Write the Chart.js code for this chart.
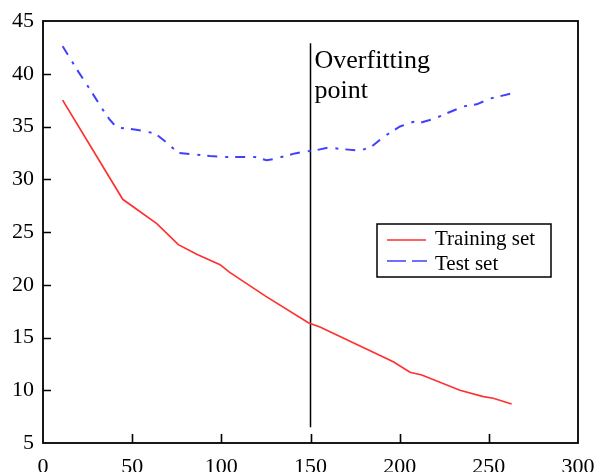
<!DOCTYPE html>
<html>
<head>
<meta charset="utf-8">
<script src="https://cdn.jsdelivr.net/npm/chart.js@4.4.0/dist/chart.umd.min.js"></script>
<style>
  html, body { margin: 0; padding: 0; background: #fff; overflow: hidden; }
  #errChart { display: block; }
</style>
</head>
<body>
<canvas id="errChart" width="595" height="472"></canvas>
<script>
// Training / test error curves
const trainX = [11, 44.7, 63.8, 75.9, 86.2, 99.3, 104.5, 125, 148.8, 155.3, 183.4, 196.4, 205.8, 212.4, 233.8, 246.9, 252.5, 262.8]
const trainY = [37.5, 28.1, 25.8, 23.8, 22.9, 21.9, 21.2, 18.9, 16.4, 16.0, 13.75, 12.7, 11.7, 11.45, 10.0, 9.4, 9.24, 8.7]

const testX = [11, 19.8, 26.4, 33.5, 37.2, 41.3, 52.2, 62.8, 68.4, 75.9, 85.2, 93.6, 102, 110.5, 118.9, 125.4, 129.1, 135.7, 141.3, 146, 151.6, 160, 168.4, 177.8, 184.3, 190.8, 200.2, 207.7, 211.4, 218.9, 226.4, 235.7, 243.2, 250.7, 262]
const testY = [42.6, 40.2, 38.5, 36.6, 35.7, 34.9, 34.7, 34.35, 33.6, 32.5, 32.35, 32.2, 32.1, 32.1, 32.1, 31.8, 31.9, 32.2, 32.45, 32.6, 32.7, 33.0, 32.85, 32.7, 33.1, 34.0, 35.0, 35.45, 35.35, 35.7, 36.25, 36.9, 37.1, 37.65, 38.1]

// vertical marker
const overX = [150, 150]
const overY = [42.9, 6.5]

const seriesNames = ['Training set', 'Test set']
const markerText = ['Overfitting', 'point']

const xTicks = [0, 50, 100, 150, 200, 250, 300]
const yTicks = [5, 10, 15, 20, 25, 30, 35, 40, 45]

const serif = "'Liberation Serif', 'Times New Roman', serif"
const redColor = '#ff3030'
const blueColor = '#4040ff'
const testDash = [10, 8, 3, 7]

const toPoints = (xs, ys) => xs.map((x, i) => ({ x: x, y: ys[i] }))

// box, inward ticks, text and legend
const framePlugin = {
    id: 'frame',
    afterDraw(chart) {
        const ctx = chart.ctx
        const area = chart.chartArea
        const xs = chart.scales.x
        const ys = chart.scales.y
        ctx.save()

        ctx.strokeStyle = '#000'
        ctx.lineWidth = 1.6
        ctx.beginPath()
        xTicks.slice(1, -1).forEach(v => {
            const px = Math.round(xs.getPixelForValue(v)) + 0.5
            ctx.moveTo(px, area.bottom)
            ctx.lineTo(px, area.bottom - 9)
        })
        yTicks.slice(1, -1).forEach(v => {
            const py = Math.round(ys.getPixelForValue(v)) + 0.5
            ctx.moveTo(area.left, py)
            ctx.lineTo(area.left + 8, py)
        })
        ctx.stroke()

        ctx.lineWidth = 1.8
        ctx.strokeRect(area.left, area.top, area.right - area.left, area.bottom - area.top)

        // label next to the marker line
        ctx.fillStyle = '#000'
        ctx.font = '26px ' + serif
        ctx.textAlign = 'left'
        ctx.textBaseline = 'alphabetic'
        const tx = xs.getPixelForValue(150) + 4
        ctx.fillText(markerText[0], tx, ys.getPixelForValue(40.55))
        ctx.fillText(markerText[1], tx, ys.getPixelForValue(40.55) + 30)

        // legend box
        const lx = 377, ly = 224, lw = 174, lh = 53
        ctx.fillStyle = '#fff'
        ctx.fillRect(lx, ly, lw, lh)
        ctx.lineWidth = 1.5
        ctx.strokeRect(lx, ly, lw, lh)

        ctx.lineWidth = 1.6
        ctx.strokeStyle = redColor
        ctx.beginPath()
        ctx.moveTo(387, 240)
        ctx.lineTo(426, 240)
        ctx.stroke()

        ctx.strokeStyle = blueColor
        ctx.setLineDash([19, 6])
        ctx.beginPath()
        ctx.moveTo(387, 261)
        ctx.lineTo(427, 261)
        ctx.stroke()
        ctx.setLineDash([])

        ctx.fillStyle = '#000'
        ctx.font = '21px ' + serif
        ctx.textBaseline = 'alphabetic'
        ctx.fillText(seriesNames[0], 435, 245)
        ctx.fillText(seriesNames[1], 435, 270)

        ctx.restore()
    }
}

const ctx = document.getElementById('errChart').getContext('2d')

new Chart(ctx, {
    type: 'line',
    data: {
        datasets: [
            {
                label: seriesNames[0],
                data: toPoints(trainX, trainY),
                borderColor: redColor,
                borderWidth: 1.7,
                pointRadius: 0,
                tension: 0,
                fill: false
            },
            {
                label: seriesNames[1],
                data: toPoints(testX, testY),
                borderColor: blueColor,
                borderWidth: 2,
                borderDash: testDash,
                pointRadius: 0,
                tension: 0,
                fill: false
            },
            {
                label: 'marker',
                data: toPoints(overX, overY),
                borderColor: '#000',
                borderWidth: 1.5,
                pointRadius: 0,
                fill: false
            }
        ]
    },
    options: {
        responsive: false,
        animation: false,
        layout: { padding: { top: 21, right: 0, left: 0, bottom: 0 } },
        plugins: {
            legend: { display: false },
            tooltip: { enabled: false }
        },
        scales: {
            x: {
                type: 'linear',
                min: 0,
                max: 300,
                afterBuildTicks: (scale) => { scale.ticks = xTicks.map(v => ({ value: v })) },
                afterFit: (scale) => {
                    scale.height = 29
                    scale.paddingLeft = 0
                    scale.paddingRight = 17
                },
                grid: { display: false },
                border: { display: false },
                ticks: {
                    padding: 3,
                    maxRotation: 0,
                    color: '#000',
                    font: { family: serif, size: 22 }
                }
            },
            y: {
                type: 'linear',
                min: 5,
                max: 45,
                afterBuildTicks: (scale) => { scale.ticks = yTicks.map(v => ({ value: v })) },
                afterFit: (scale) => { scale.width = 43 },
                grid: { display: false },
                border: { display: false },
                ticks: {
                    padding: 1,
                    color: '#000',
                    font: { family: serif, size: 22 }
                }
            }
        }
    },
    plugins: [framePlugin]
})
</script>
</body>
</html>
